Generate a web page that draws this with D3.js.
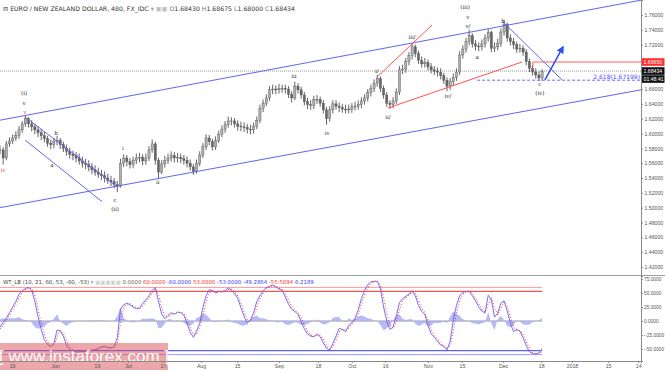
<!DOCTYPE html>
<html><head><meta charset="utf-8">
<script src="https://cdn.jsdelivr.net/npm/d3@7"></script>
<style>body{margin:0;background:#fff;overflow:hidden}svg{display:block;font-family:"DejaVu Sans",Verdana,sans-serif}</style>
</head><body><svg id="c" width="665" height="372"></svg>
<script>
// ---- price bars (daily, index = trading day) ----
const closes = [
1.578,1.567,1.586,1.590,1.594,1.597,1.605,1.613,1.620,1.613,
1.609,1.605,1.601,1.597,1.593,1.587,1.585,1.589,1.591,1.585,
1.580,1.576,1.572,1.570,1.567,1.563,1.560,1.558,1.555,1.551,
1.548,1.545,1.543,1.540,1.537,1.535,1.531,1.529,1.560,1.567,
1.562,1.558,1.564,1.567,1.568,1.563,1.567,1.578,1.586,1.564,
1.548,1.559,1.564,1.567,1.570,1.567,1.568,1.566,1.564,1.560,
1.555,1.549,1.560,1.571,1.582,1.594,1.589,1.582,1.591,1.599,
1.606,1.612,1.617,1.617,1.613,1.610,1.609,1.608,1.606,1.605,
1.610,1.618,1.634,1.641,1.648,1.659,1.660,1.659,1.661,1.661,
1.660,1.653,1.648,1.664,1.659,1.652,1.643,1.639,1.638,1.646,
1.646,1.641,1.632,1.620,1.632,1.640,1.637,1.635,1.633,1.632,
1.633,1.636,1.637,1.639,1.644,1.648,1.655,1.661,1.668,1.674,
1.661,1.652,1.641,1.639,1.644,1.656,1.686,1.687,1.697,1.705,
1.717,1.708,1.699,1.694,1.696,1.690,1.686,1.684,1.683,1.678,
1.672,1.664,1.670,1.676,1.683,1.706,1.714,1.724,1.732,1.721,
1.718,1.717,1.721,1.729,1.736,1.715,1.717,1.722,1.737,1.747,
1.729,1.724,1.720,1.714,1.715,1.710,1.697,1.688,1.683,1.679,
1.675,1.684];
const highs = [
1.584,1.582,1.590,1.595,1.599,1.603,1.610,1.617,1.624,1.622,
1.618,1.613,1.610,1.606,1.602,1.597,1.592,1.594,1.597,1.594,
1.589,1.585,1.581,1.577,1.575,1.573,1.569,1.566,1.564,1.560,
1.557,1.554,1.551,1.549,1.546,1.543,1.540,1.536,1.566,1.572,
1.571,1.567,1.569,1.573,1.574,1.572,1.573,1.583,1.592,1.589,
1.567,1.564,1.570,1.573,1.576,1.575,1.574,1.573,1.571,1.569,
1.565,1.559,1.565,1.576,1.587,1.599,1.598,1.593,1.596,1.604,
1.611,1.617,1.623,1.622,1.621,1.618,1.616,1.615,1.613,1.612,
1.615,1.623,1.639,1.646,1.653,1.664,1.666,1.665,1.667,1.666,
1.666,1.664,1.657,1.670,1.668,1.663,1.656,1.648,1.645,1.651,
1.652,1.650,1.645,1.636,1.637,1.645,1.645,1.642,1.640,1.639,
1.639,1.641,1.643,1.645,1.649,1.653,1.660,1.666,1.673,1.679,
1.677,1.665,1.656,1.645,1.649,1.661,1.691,1.693,1.702,1.710,
1.722,1.720,1.712,1.704,1.702,1.700,1.695,1.691,1.689,1.688,
1.682,1.676,1.675,1.681,1.688,1.711,1.719,1.729,1.740,1.735,
1.726,1.723,1.727,1.734,1.741,1.739,1.723,1.728,1.742,1.753,
1.750,1.734,1.729,1.724,1.721,1.719,1.714,1.701,1.692,1.688,
1.684,1.687];
const lows = [
1.572,1.558,1.564,1.582,1.586,1.590,1.593,1.601,1.609,1.608,
1.603,1.599,1.595,1.591,1.588,1.582,1.579,1.580,1.584,1.579,
1.575,1.570,1.566,1.564,1.561,1.558,1.554,1.552,1.549,1.545,
1.543,1.540,1.537,1.534,1.532,1.529,1.526,1.521,1.527,1.555,
1.556,1.553,1.553,1.559,1.561,1.557,1.558,1.563,1.574,1.558,
1.540,1.545,1.554,1.559,1.562,1.561,1.561,1.560,1.558,1.554,
1.550,1.544,1.546,1.556,1.567,1.578,1.584,1.577,1.578,1.587,
1.595,1.601,1.608,1.611,1.608,1.604,1.603,1.602,1.600,1.599,
1.600,1.606,1.614,1.629,1.637,1.644,1.653,1.653,1.654,1.655,
1.654,1.648,1.642,1.645,1.654,1.647,1.638,1.633,1.632,1.633,
1.640,1.636,1.627,1.612,1.616,1.627,1.632,1.629,1.628,1.627,
1.627,1.628,1.631,1.632,1.634,1.639,1.643,1.650,1.656,1.663,
1.656,1.647,1.636,1.633,1.634,1.640,1.652,1.680,1.682,1.692,
1.700,1.703,1.694,1.689,1.689,1.685,1.681,1.679,1.677,1.673,
1.667,1.657,1.659,1.665,1.671,1.679,1.701,1.709,1.719,1.716,
1.712,1.711,1.712,1.716,1.724,1.710,1.710,1.712,1.717,1.732,
1.724,1.719,1.714,1.709,1.709,1.705,1.692,1.683,1.678,1.674,
1.671,1.671];

// ---- WT_LB oscillator ----
const wt1 = [
-11,-2,5,15,25,35,48,54,58,60,
55,35,8,-15,-34,-42,-46,-40,-16,-18,
-27,-44,-51,-54,-55,-55,-54,-54,-53,-52,
-51,-49,-46,-45,-48,-48,-46,-30,20,29,
32,29,25,22,23,31,38,45,55,60,
35,12,4,10,15,12,16,15,10,-4,
-20,-29,-18,-4,24,45,56,54,50,53,
52,54,59,55,49,40,24,8,-3,2,
15,35,45,54,60,62,64,61,57,55,
43,30,21,17,12,-1,-14,-23,-27,-28,
-23,-28,-39,-49,-52,-40,-27,-13,-15,-19,
-8,-3,5,20,40,55,65,70,71,71,
58,25,0,-15,-11,9,33,40,44,48,
54,45,28,17,12,-8,-23,-29,-36,-43,
-45,-52,-36,2,28,45,51,53,53,45,
36,25,18,14,46,38,7,14,32,36,
18,-4,-19,-15,-18,-30,-44,-55,-58,-59,
-57,-49.3];
const wt2 = [
-14,-7,1,10,20,30,41,51,56,59,
58,46,22,-3,-24,-38,-44,-44,-28,-17,
-22,-35,-47,-52,-55,-55,-55,-54,-54,-53,
-52,-50,-48,-46,-47,-48,-47,-38,-5,24,
30,31,27,24,22,27,34,41,50,57,
48,24,8,7,12,14,14,16,13,3,
-12,-24,-24,-11,10,34,50,55,52,51,
53,53,56,57,52,45,32,16,3,-1,
8,25,40,49,57,61,63,63,59,56,
49,37,26,19,15,6,-7,-18,-25,-27,
-26,-25,-33,-44,-50,-46,-34,-20,-14,-17,
-13,-5,1,12,30,47,60,67,70,71,
65,42,13,-7,-13,-1,21,36,42,46,
51,50,37,23,15,2,-15,-26,-32,-40,
-44,-48,-44,-17,15,36,48,52,53,49,
41,31,22,16,30,42,23,11,23,34,
27,7,-11,-17,-17,-24,-37,-49,-56,-58,
-58,-55.5];
const hist = [
3,5,4,5,5,5,7,3,2,1,
-3,-11,-14,-12,-10,-4,-2,4,12,-1,
-5,-9,-4,-2,0,0,1,0,1,1,
1,1,2,1,-1,0,1,8,25,5,
2,-2,-2,-2,1,4,4,4,5,3,
-13,-12,-4,3,3,-2,2,-1,-3,-7,
-8,-5,6,7,14,11,6,-1,-2,2,
-1,1,3,-2,-3,-5,-8,-8,-6,3,
7,10,5,5,3,1,1,-2,-2,-1,
-6,-7,-5,-2,-3,-7,-7,-5,-2,-1,
3,-3,-6,-5,-2,6,7,7,-1,-2,
5,2,4,8,10,8,5,4,1,0,
-7,-17,-13,-8,2,10,12,4,2,3,
3,-5,-9,-6,-3,-10,-8,-3,-4,-3,
-1,-4,8,17,13,9,3,1,0,-4,
-5,-6,-4,-2,16,-4,-16,3,9,2,
-9,-11,-8,2,-1,-6,-7,-6,-2,-1,
1,6];
const oscLevels = [60, 53, -53, -60];
const oscLevelColors = ["#ff9a9a", "#ff2a2a", "#3a3aff", "#9a9aff"];

// ---- axes ----
const xTickIdx = [3.8,17.4,30.6,40.4,51.4,63.4,74.8,88,100.3,111,121.5,135,145.7,158.7,170.7,180.4,191.8,201.3];
const xTickLabels = ["19","Jun","19","Jul","17","Aug","15","Sep","18","Oct","16","Nov","15","Dec","18","2018","15","14"];
// 1.70 and 1.68 are hidden behind the price boxes in the reference
const priceTicks = [1.42,1.44,1.46,1.48,1.50,1.52,1.54,1.56,1.58,1.60,1.62,1.64,1.66,1.72,1.74,1.76];
const oscTicks = [75,50,25,0,-25,-50];

// ---- annotations (bar index, price) ----
const trendLines = [
  {i1:0, p1:1.618, i2:202.2, p2:1.780, color:"#6464ee"},
  {i1:0, p1:1.500, i2:202.2, p2:1.659, color:"#6464ee"},
  {i1:8, p1:1.622, i2:37, p2:1.528, color:"#6464ee"},
  {i1:8, p1:1.591, i2:32.2, p2:1.508, color:"#6464ee"},
  {i1:118.9, p1:1.676, i2:136.3, p2:1.7465, color:"#ff5050"},
  {i1:122.4, p1:1.6345, i2:164.7, p2:1.6966, color:"#ff5050"},
  {i1:158.7, p1:1.7506, i2:177.3, p2:1.6723, color:"#6464ee"}
];
const arrowPts = [[171.9,1.6723],[177.6,1.7168]];
const resistance = 1.69650, resistanceFrom = 168.1;
const fibLevel = 1.67199, fibFrom = 150.5, fibText = "2.618(1.67199)";
const lastPrice = 1.68434;
const waveLabels = [
  [1,1.551,"iv","#ff3030"],[7.6,1.6547,"(i)","#222"],[7.6,1.6413,"v","#222"],[7.9,1.629,"v","#ff3030"],
  [17.7,1.6008,"b","#222"],[16.4,1.5576,"a","#222"],[36.3,1.5104,"c","#222"],[36.3,1.4982,"(ii)","#222"],
  [38.8,1.5805,"i","#222"],[49.8,1.5346,"ii","#222"],[92.7,1.6777,"iii","#222"],[103.2,1.6008,"iv","#222"],
  [118.9,1.6844,"i/","#222"],[122.4,1.6224,"ii/","#222"],[130,1.7303,"iii/","#222"],[141.3,1.6507,"iv/","#222"],
  [147.6,1.7452,"v/","#222"],[147.6,1.7573,"v","#222"],[146.7,1.7708,"(iii)","#222"],[150.5,1.7033,"a","#222"],
  [158.7,1.7519,"b","#222"],[170.3,1.6669,"c","#222"],[170.3,1.6547,"(iv)","#222"]
];

// ---- layout ----
const PX = 641, MAIN_B = 275, OSC_T = 276, OSC_B = 361;
const svg = d3.select("#c");
const x = d3.scaleLinear().domain([0, 202.2]).range([0, PX]);
const y = d3.scaleLinear().domain([1.4091, 1.7802]).range([MAIN_B, 0]);
const yo = d3.scaleLinear().domain([-71.4, 80.4]).range([OSC_B, OSC_T]);

const defs = svg.append("defs");
defs.append("clipPath").attr("id","cm").append("rect").attr("x",0).attr("y",0).attr("width",PX).attr("height",MAIN_B);
defs.append("clipPath").attr("id","co").append("rect").attr("x",0).attr("y",OSC_T).attr("width",PX).attr("height",OSC_B-OSC_T);
defs.append("marker").attr("id","ah").attr("viewBox","0 0 10 10").attr("refX",8).attr("refY",5)
  .attr("markerWidth",5).attr("markerHeight",5).attr("orient","auto")
  .append("path").attr("d","M0,0L10,5L0,10z").attr("fill","#2a4cff");

const main = svg.append("g").attr("clip-path","url(#cm)");

// current price dotted line
main.append("line").attr("x1",0).attr("x2",PX).attr("y1",y(lastPrice)).attr("y2",y(lastPrice))
  .attr("stroke","#999").attr("stroke-width",1).attr("stroke-dasharray","1,1");

// candles
const bars = closes.map((c,i)=>({i, c, o: i ? closes[i-1] : c, h: highs[i], l: lows[i]}));
main.append("g").selectAll("line").data(bars).join("line")
  .attr("x1",d=>x(d.i)).attr("x2",d=>x(d.i)).attr("y1",d=>y(d.h)).attr("y2",d=>y(d.l))
  .attr("stroke","#555").attr("stroke-width",0.9);
main.append("g").selectAll("rect").data(bars).join("rect")
  .attr("x",d=>x(d.i)-1.1).attr("width",2.2)
  .attr("y",d=>y(Math.max(d.o,d.c))).attr("height",d=>Math.max(0.8, Math.abs(y(d.o)-y(d.c))))
  .attr("fill",d=>d.c>=d.o?"#b0b0b0":"#666").attr("stroke","#555").attr("stroke-width",0.4);

// trend lines
main.append("g").selectAll("line").data(trendLines).join("line")
  .attr("x1",d=>x(d.i1)).attr("y1",d=>y(d.p1)).attr("x2",d=>x(d.i2)).attr("y2",d=>y(d.p2))
  .attr("stroke",d=>d.color).attr("stroke-width",1);

// resistance
main.append("path").attr("d",`M${x(resistanceFrom)},${y(1.690)}V${y(resistance)}H${PX}`)
  .attr("fill","none").attr("stroke","#ff4a4a").attr("stroke-width",0.9);
// fib dashed
main.append("line").attr("x1",x(fibFrom)).attr("x2",PX).attr("y1",y(fibLevel)).attr("y2",y(fibLevel))
  .attr("stroke","#5a5aff").attr("stroke-width",0.9).attr("stroke-dasharray","3,2");
main.append("text").attr("x",PX-1).attr("y",y(fibLevel)-1.5).attr("text-anchor","end")
  .attr("font-size",6).attr("fill","#4a4aff").text(fibText);
// arrow
main.append("line").attr("x1",x(arrowPts[0][0])).attr("y1",y(arrowPts[0][1]))
  .attr("x2",x(arrowPts[1][0])).attr("y2",y(arrowPts[1][1]))
  .attr("stroke","#2a4cff").attr("stroke-width",1.5).attr("marker-end","url(#ah)");

// wave labels
main.append("g").selectAll("text").data(waveLabels).join("text")
  .attr("x",d=>x(d[0])).attr("y",d=>y(d[1])+2).attr("text-anchor","middle")
  .attr("font-size",5.5).attr("fill",d=>d[3]).attr("font-family","'DejaVu Serif',serif").text(d=>d[2]);

// ---- oscillator ----
const osc = svg.append("g").attr("clip-path","url(#co)");
const lastI = closes.length-1;
osc.append("line").attr("x1",0).attr("x2",x(lastI)).attr("y1",yo(0)).attr("y2",yo(0)).attr("stroke","#9a9a9a").attr("stroke-width",1);
osc.append("path").datum(hist)
  .attr("d",d3.area().x((d,i)=>x(i)).y0(yo(0)).y1(d=>yo(d)))
  .attr("fill","#a9aef4").attr("opacity",0.85);
osc.append("g").selectAll("line").data(oscLevels).join("line")
  .attr("x1",0).attr("x2",x(lastI)).attr("y1",d=>yo(d)).attr("y2",d=>yo(d))
  .attr("stroke",(d,i)=>oscLevelColors[i]).attr("stroke-width",1);
osc.append("path").datum(wt1).attr("d",d3.line().x((d,i)=>x(i)).y(d=>yo(d)))
  .attr("fill","none").attr("stroke","#6262ff").attr("stroke-width",0.9);
osc.append("path").datum(wt2).attr("d",d3.line().x((d,i)=>x(i)).y(d=>yo(d)))
  .attr("fill","none").attr("stroke","#ff3a3a").attr("stroke-width",1.1).attr("stroke-dasharray","0.9,2");

// ---- watermark ----
svg.append("rect").attr("x",0).attr("y",343).attr("width",168).attr("height",27).attr("fill","#d94f55").attr("opacity",0.5);
svg.append("text").attr("x",84).attr("y",362).attr("text-anchor","middle").attr("font-size",17)
  .attr("font-family","'Liberation Sans',Arial,sans-serif").attr("fill","#fff").attr("opacity",0.95)
  .text("[ www.instaforex.com ]");

// ---- axes ----
function styleAxis(fs){
  return g => {
    g.select(".domain").attr("stroke","#8a8a8a");
    g.selectAll(".tick line").attr("stroke","#8a8a8a");
    g.selectAll(".tick text").attr("fill","#555").attr("font-size",fs).attr("font-family","'Liberation Sans',Arial,sans-serif");
  };
}
svg.append("g").attr("transform",`translate(${PX},0)`)
  .call(d3.axisRight(y).tickValues(priceTicks).tickFormat(d3.format(".5f")).tickSize(2).tickPadding(1.5))
  .call(styleAxis(5.2));
svg.append("g").attr("transform",`translate(${PX},0)`)
  .call(d3.axisRight(yo).tickValues(oscTicks).tickFormat(d3.format(".4f")).tickSize(2).tickPadding(1))
  .call(styleAxis(4.8));
svg.append("g").attr("transform",`translate(0,${OSC_B})`)
  .call(d3.axisBottom(x).tickValues(xTickIdx).tickFormat((d,i)=>xTickLabels[i]).tickSize(2).tickPadding(1.5))
  .call(styleAxis(5.2));
svg.append("line").attr("x1",0).attr("x2",665).attr("y1",275.5).attr("y2",275.5).attr("stroke","#a0a0a0");
svg.append("line").attr("x1",PX+0.5).attr("x2",PX+0.5).attr("y1",0).attr("y2",OSC_B).attr("stroke","#8a8a8a");

// price boxes
const boxes = [
  {yv:y(resistance), txt:"1.69650", fill:"#ff2d2d"},
  {yv:y(lastPrice), txt:"1.68434", fill:"#111"},
  {yv:y(lastPrice)+8, txt:"01:48:41", fill:"#111"}
];
const bg = svg.append("g").selectAll("g").data(boxes).join("g");
bg.append("rect").attr("x",PX+1).attr("y",d=>d.yv-3.8).attr("width",22.5).attr("height",7.6).attr("fill",d=>d.fill);
bg.append("text").attr("x",PX+2.5).attr("y",d=>d.yv+1.8).attr("font-size",5.2)
  .attr("font-family","'Liberation Sans',Arial,sans-serif").attr("fill","#fff").text(d=>d.txt);

// ---- titles ----
const t = svg.append("text").attr("x",3).attr("y",10.5).attr("font-size",6.2).attr("fill","#333");
t.append("tspan").text("\u229F EURO / NEW ZEALAND DOLLAR, 480, FX_IDC ");
t.append("tspan").attr("fill","#999").text("\u25BE  ");
t.append("tspan").attr("fill","#bbb").text("\u25A3\u25A3 ");
[["O","1.68430"],["H","1.68675"],["L","1.68000"],["C","1.68434"]].forEach(([k,v])=>{
  t.append("tspan").attr("fill","#777").text(" "+k);
  t.append("tspan").attr("fill","#333").text(v+" ");
});

const t2 = svg.append("text").attr("x",3).attr("y",284).attr("font-size",5.4).attr("fill","#444");
t2.append("tspan").text("WT_LB (10, 21, 60, 53, -60, -53) ");
t2.append("tspan").attr("fill","#999").text("\u25BE  ");
t2.append("tspan").attr("fill","#ccc").text("\u25A3\u25A3\u25A3\u25A3\u25A3  ");
const indVals = [["0.0000","#666"],["60.0000","#ff3030"],["-60.0000","#3a3aff"],["53.0000","#ff3030"],["-53.0000","#3a3aff"],["-49.2864","#3a3aff"],["-55.5094","#ff3030"],["6.2189","#3a3aff"]];
indVals.forEach(([v,c])=>t2.append("tspan").attr("fill",c).text(v+"   "));
</script></body></html>
